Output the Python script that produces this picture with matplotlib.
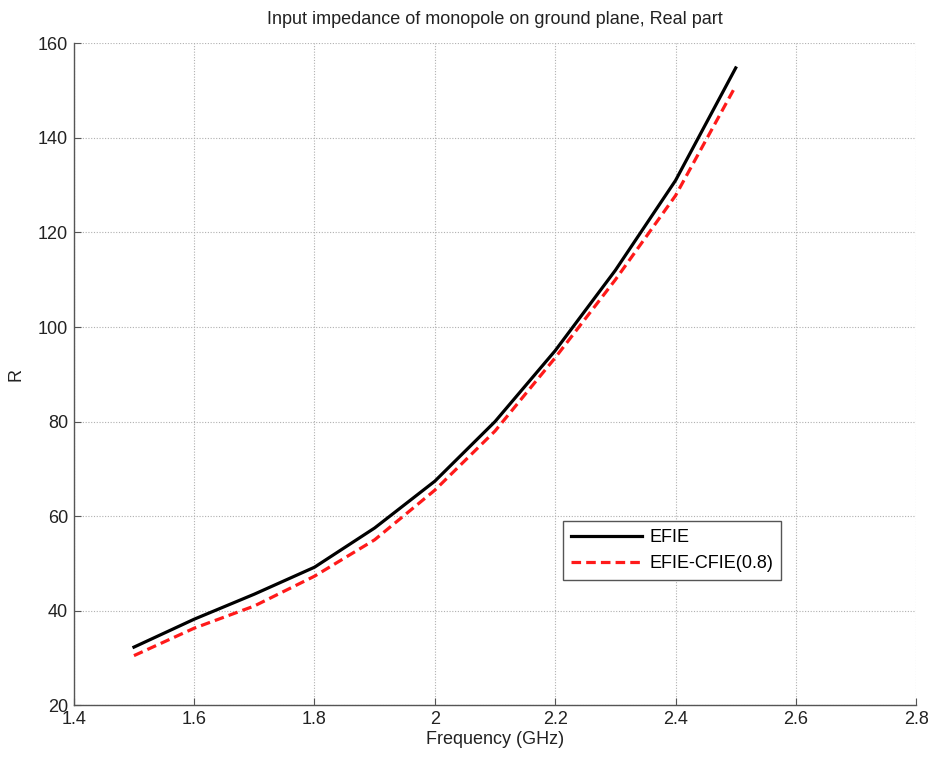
import matplotlib
matplotlib.use("Agg")
import matplotlib.pyplot as plt

plt.rcParams["font.family"] = ["Liberation Sans", "DejaVu Sans"]

freq = [1.5, 1.6, 1.7, 1.8, 1.9, 2.0, 2.1, 2.2, 2.3, 2.4, 2.5]
r_efie = [32.3, 38.2, 43.5, 49.2, 57.5, 67.4, 80.0, 95.0, 112.0, 131.0, 154.8]
r_cfie = [30.5, 36.3, 41.0, 47.3, 55.0, 65.5, 78.0, 93.5, 110.0, 127.8, 151.0]

xticks = [1.4, 1.6, 1.8, 2.0, 2.2, 2.4, 2.6, 2.8]
xticklabels = ["1.4", "1.6", "1.8", "2", "2.2", "2.4", "2.6", "2.8"]
yticks = [20, 40, 60, 80, 100, 120, 140, 160]

fig = plt.figure(figsize=(9.34, 7.6), dpi=100)
ax = fig.add_axes([0.079, 0.072, 0.902, 0.871])

ax.plot(freq, r_efie, color="black", lw=2.3, label="EFIE")
ax.plot(freq, r_cfie, color="#ff1a1a", lw=2.3, ls=(0, (3, 1.6)), label="EFIE-CFIE(0.8)")

ax.set_xlim(1.4, 2.8)
ax.set_ylim(20, 160)
ax.set_xticks(xticks)
ax.set_xticklabels(xticklabels)
ax.set_yticks(yticks)
ax.grid(True, color="#b0b0b0", ls=(0, (1, 1.5)), lw=0.8)

for side in ["top", "right"]:
    ax.spines[side].set_visible(False)
for side in ["left", "bottom"]:
    ax.spines[side].set_color("#555555")
    ax.spines[side].set_linewidth(1.0)
ax.tick_params(direction="in", length=5, color="#555555", labelsize=13,
               labelcolor="#222222", pad=4)

ax.set_title("Input impedance of monopole on ground plane, Real part",
             fontsize=13, color="#222222", pad=14)
ax.set_xlabel("Frequency (GHz)", fontsize=13, color="#222222", labelpad=2)
ax.set_ylabel("R", fontsize=13, color="#222222", labelpad=10)

leg = ax.legend(loc="lower left", bbox_to_anchor=(0.581, 0.189), borderaxespad=0,
                fontsize=13, fancybox=False, framealpha=1, edgecolor="#555555",
                handlelength=3.9, handletextpad=0.4, borderpad=0.45,
                labelspacing=0.5)
leg.get_frame().set_linewidth(1.0)

fig.savefig("out.png", dpi=100)
